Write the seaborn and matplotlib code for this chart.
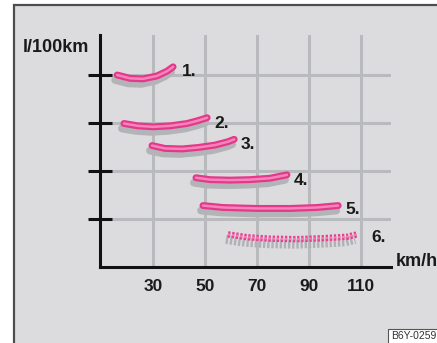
import matplotlib
matplotlib.use("Agg")
import matplotlib.pyplot as plt
import matplotlib.transforms as mtransforms
from matplotlib.patches import Rectangle
import seaborn as sns
import pandas as pd

# speed (km/h) and consumption (grid units)
curve_names = ["1.", "2.", "3.", "4.", "5.", "6."]
speed_1 = [16.2, 21.2, 26.2, 31.5, 35.4, 37.7]
cons_1 = [4.00, 3.93, 3.92, 3.98, 4.08, 4.17]
speed_2 = [18.8, 24.2, 30.0, 36.5, 43.1, 47.3, 50.8]
cons_2 = [2.99, 2.94, 2.92, 2.94, 2.99, 3.05, 3.11]
speed_3 = [29.6, 34.6, 41.2, 47.3, 53.8, 58.8, 61.2]
cons_3 = [2.53, 2.47, 2.46, 2.49, 2.54, 2.61, 2.66]
speed_4 = [46.5, 51.9, 59.6, 67.3, 75.0, 81.5]
cons_4 = [1.86, 1.82, 1.81, 1.82, 1.85, 1.92]
speed_5 = [49.2, 56.9, 70.0, 82.7, 93.1, 101.2]
cons_5 = [1.28, 1.24, 1.22, 1.22, 1.24, 1.28]
speed_6 = [58.8, 66.2, 75.0, 85.4, 95.4, 104.6, 108.5]
cons_6 = [0.68, 0.62, 0.59, 0.58, 0.60, 0.63, 0.68]

speed_ticks = [30, 50, 70, 90, 110]
cons_ticks = [1, 2, 3, 4]

speeds = [speed_1, speed_2, speed_3, speed_4, speed_5, speed_6]
conss = [cons_1, cons_2, cons_3, cons_4, cons_5, cons_6]

sns.set_style("white")
plt.rcParams["font.family"] = ["Liberation Sans", "DejaVu Sans"]

fig = plt.figure(figsize=(4.37, 3.43), dpi=100)
fig.patch.set_facecolor("white")

# grey panel with dark frame on the left/top
fig.patches.append(Rectangle((14 / 437, -0.1), 1.2, 1.1 - 5 / 343, transform=fig.transFigure,
                             facecolor="#dcdcde", edgecolor="#4d4d4f", lw=1.6, zorder=-5))

ax = fig.add_axes([100 / 437, (343 - 267) / 343, 291 / 437, 232 / 343])
ax.set_zorder(2)
ax.set_facecolor("none")

shadow = mtransforms.offset_copy(ax.transData, fig=fig, x=-2, y=-5, units="dots")

offsets = [(6, -3), (5, -4), (5, -4), (5, -4), (5, -3), (10, -2)]
for i, name in enumerate(curve_names):
    df = pd.DataFrame({"speed": speeds[i], "cons": conss[i]})
    dashed = name == "6."
    if dashed:
        sns.lineplot(data=df, x="speed", y="cons", ax=ax, sort=False, estimator=None,
                     color="#b0b1b4", lw=6.5, transform=shadow, zorder=3)
        ax.lines[-1].set_linestyle((0, (0.26, 0.2)))
        ax.lines[-1].set_dash_capstyle("butt")
        sns.lineplot(data=df, x="speed", y="cons", ax=ax, sort=False, estimator=None,
                     color="#ea3f8f", lw=4.6, zorder=4)
        ax.lines[-1].set_linestyle((0, (0.36, 0.28)))
        ax.lines[-1].set_dash_capstyle("butt")
        sns.lineplot(data=df, x="speed", y="cons", ax=ax, sort=False, estimator=None,
                     color="#f47bb5", lw=1.5, zorder=5)
        ax.lines[-1].set_linestyle((0, (1.1, 0.86)))
        ax.lines[-1].set_dash_capstyle("butt")
    else:
        sns.lineplot(data=df, x="speed", y="cons", ax=ax, sort=False, estimator=None,
                     color="#b3b4b7", lw=5.6, transform=shadow, zorder=3,
                     solid_capstyle="round", solid_joinstyle="round")
        sns.lineplot(data=df, x="speed", y="cons", ax=ax, sort=False, estimator=None,
                     color="#e3398a", lw=5.0, zorder=4,
                     solid_capstyle="round", solid_joinstyle="round")
        sns.lineplot(data=df, x="speed", y="cons", ax=ax, sort=False, estimator=None,
                     color="#f783ba", lw=1.8, zorder=5,
                     solid_capstyle="round", solid_joinstyle="round")
    ax.annotate(name, (speeds[i][-1], conss[i][-1]), xytext=offsets[i],
                textcoords="offset points", ha="left", va="center",
                fontsize=12.5, fontweight="bold", color="#1a1a1a", annotation_clip=False)

ax.set_xlim(9.6, 121.5)
ax.set_ylim(0, 232 / 48)
ax.set_xticks(speed_ticks)
ax.set_xticklabels([str(v) for v in speed_ticks], fontsize=12.5, fontweight="bold", color="#1a1a1a")
ax.set_yticks(cons_ticks)
ax.set_yticklabels([])
ax.set_xlabel("")
ax.set_ylabel("")
ax.tick_params(axis="x", bottom=False, length=0, pad=8.5)
ax.tick_params(axis="y", left=True, direction="inout", length=17, width=2.2, color="#111111")
ax.grid(True, color="#b9babd", lw=2.2)
ax.set_axisbelow(True)
for side in ["top", "right"]:
    ax.spines[side].set_visible(False)
for side in ["left", "bottom"]:
    ax.spines[side].set_linewidth(2.2)
    ax.spines[side].set_color("#111111")
    ax.spines[side].set_zorder(6)

fig.text(23 / 437, 1 - 48 / 343, "l/100km", fontsize=13, fontweight="bold",
         color="#1a1a1a", ha="left", va="center")
fig.text(396 / 437, 1 - 262 / 343, "km/h", fontsize=13, fontweight="bold",
         color="#1a1a1a", ha="left", va="center")

fig.patches.append(Rectangle((388 / 437, -0.05), 0.2, (14 + 17) / 343, transform=fig.transFigure,
                             facecolor="white", edgecolor="#555555", lw=0.8, zorder=1))
fig.text(391 / 437, 1 - 336 / 343, "B6Y-0259", fontsize=7.5, color="#333333",
         ha="left", va="center", zorder=2)

fig.savefig("out.png", dpi=100)
